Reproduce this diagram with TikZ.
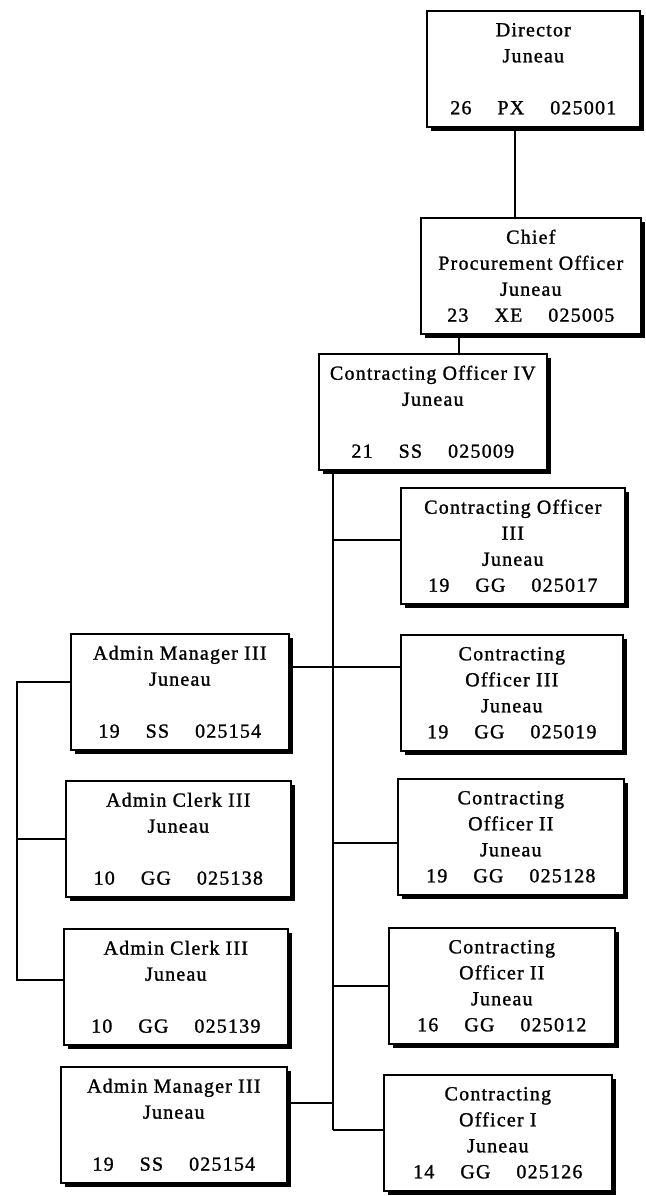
\documentclass[tikz,border=0pt]{standalone}
\usepackage{fontspec}
\setmainfont{Liberation Serif}
\newfontfamily\orgfont[LetterSpace=6,FakeBold=1.2]{Liberation Serif}
\usepackage{tikz}
\usetikzlibrary{positioning,shadows}
\newcommand{\posn}[3]{#1\hspace{1.3em}#2\hspace{1.3em}#3}

\begin{document}
\begin{tikzpicture}[x=1pt, y=-1pt, font=\orgfont\fontsize{20}{26}\selectfont, line width=1.6pt]
\tikzstyle{box}=[draw, fill=white, anchor=north west, align=center, inner sep=0pt,
  minimum height=116pt, drop shadow={shadow xshift=4pt, shadow yshift=-4pt, fill=black, opacity=1}]
\useasboundingbox (0,0) rectangle (645,1196);
% top of the chart
\node[box, minimum width=213pt] (dir) at (426,10) {Director\\Juneau\\[26pt]\posn{26}{PX}{025001}};
\node[box, minimum width=220pt] (chief) at (420,217) {Chief\\Procurement Officer\\Juneau\\\posn{23}{XE}{025005}};
\node[box, minimum width=228pt] (co4) at (318,353) {Contracting Officer IV\\Juneau\\[26pt]\posn{21}{SS}{025009}};
% right column
\node[box, minimum width=224pt] (co3a) at (400,487) {Contracting Officer\\III\\Juneau\\\posn{19}{GG}{025017}};
\node[box, minimum width=222pt] (co3b) at (400,634) {Contracting\\Officer III\\Juneau\\\posn{19}{GG}{025019}};
\node[box, minimum width=226pt] (co2a) at (397,778) {Contracting\\Officer II\\Juneau\\\posn{19}{GG}{025128}};
\node[box, minimum width=226pt] (co2b) at (388,927) {Contracting\\Officer II\\Juneau\\\posn{16}{GG}{025012}};
\node[box, minimum width=228pt] (co1) at (383,1074) {Contracting\\Officer I\\Juneau\\\posn{14}{GG}{025126}};
% left column
\node[box, minimum width=218pt] (am1) at (70,633) {Admin Manager III\\Juneau\\[26pt]\posn{19}{SS}{025154}};
\node[box, minimum width=225pt] (ac1) at (65,780) {Admin Clerk III\\Juneau\\[26pt]\posn{10}{GG}{025138}};
\node[box, minimum width=224pt] (ac2) at (63,928) {Admin Clerk III\\Juneau\\[26pt]\posn{10}{GG}{025139}};
\node[box, minimum width=226pt] (am2) at (60,1066) {Admin Manager III\\Juneau\\[26pt]\posn{19}{SS}{025154}};
\coordinate (trunk) at (333,1130);
\coordinate (bus) at (17,980);
% connectors
\draw (dir.south -| 515,0) -- (chief.north -| 515,0);
\draw (chief.south -| 459,0) -- (co4.north -| 459,0);
\draw (co4.south -| trunk) -- (trunk);
\draw (trunk |- 0,540) -- (co3a.west |- 0,540);
\draw (am1.east |- 0,667) -- (co3b.west |- 0,667);
\draw (trunk |- 0,843) -- (co2a.west |- 0,843);
\draw (trunk |- co2b.west) -- (co2b.west);
\draw (trunk) -- (co1.west |- trunk);
\draw (am2.east |- 0,1103) -- (trunk |- 0,1103);
\draw (am1.west |- 0,682) -- (bus |- 0,682) -- (bus) -- (ac2.west |- bus);
\draw (bus |- ac1.west) -- (ac1.west);
\end{tikzpicture}
\end{document}
